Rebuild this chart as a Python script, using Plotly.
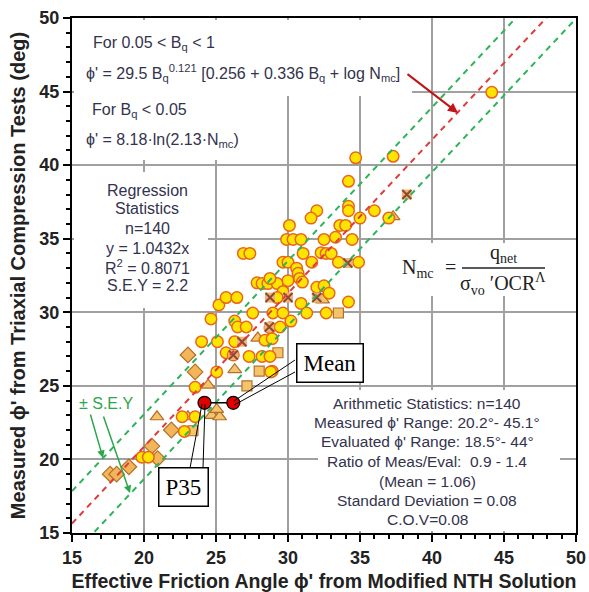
import numpy as np
import plotly.graph_objects as go

# ---------------- data ----------------
circle_x = [34.7, 37.3, 34.2, 34.2, 34.2, 32.0, 31.6, 36.0, 35.0, 37.0, 30.1, 33.6, 34.0,
            29.9, 30.35, 30.9, 32.5, 33.3, 34.45, 26.9, 27.35, 31.05, 32.3, 32.65, 33.0,
            31.65, 29.65, 30.0, 33.5, 34.9, 30.6, 30.7, 30.8, 31.0, 27.85, 28.2, 28.6, 29.25,
            28.75, 30.0, 32.0, 32.5, 32.85, 29.65, 29.25, 25.2, 25.7, 26.45, 30.9, 34.2,
            27.55, 28.95, 29.65, 31.3, 32.65, 24.65, 26.3, 26.5, 27.1, 28.75, 29.45, 30.2,
            24.0, 25.1, 26.3, 28.4, 28.9, 25.7, 26.2, 27.3, 28.2, 28.75, 28.9, 25.05, 28.8,
            23.55, 22.65, 23.55, 22.8, 19.85, 20.3, 44.15]
circle_y = [40.5, 40.6, 38.9, 37.2, 36.9, 36.9, 36.4, 36.9, 36.4, 36.4, 35.9, 35.9, 35.9,
            34.95, 34.95, 34.95, 34.95, 35.1, 34.95, 34.0, 34.0, 34.0, 34.05, 34.0, 34.0,
            33.4, 33.4, 33.4, 33.4, 33.4, 33.0, 32.65, 32.3, 32.05, 32.0, 31.95, 31.95, 31.95,
            32.3, 32.15, 31.7, 31.8, 31.3, 31.4, 31.0, 30.5, 31.0, 31.0, 30.6, 30.7,
            29.95, 29.95, 29.95, 29.95, 29.95, 29.55, 29.4, 29.0, 29.0, 28.95, 29.0, 29.4,
            28.0, 28.0, 28.0, 28.1, 28.2, 27.25, 27.1, 27.0, 27.0, 27.0, 26.0, 25.95, 25.95,
            24.9, 22.9, 22.9, 21.9, 20.15, 20.15, 44.95]

square_x = [33.5, 29.3, 28.0, 27.15, 23.4]
square_y = [29.95, 27.25, 26.0, 25.0, 21.95]

triangle_x = [37.3, 32.4, 27.9, 26.3, 24.45, 20.9, 23.05, 24.7, 25.25, 25.05]
triangle_y = [36.5, 30.85, 28.25, 26.1, 25.05, 22.9, 22.9, 23.0, 22.9, 23.4]

diamond_x = [23.05, 23.55, 21.9, 20.55, 20.95, 18.95, 17.65, 18.1]
diamond_y = [27.1, 25.95, 22.0, 20.9, 20.05, 19.5, 19.0, 19.0]

cross_x = [38.25, 34.15, 28.75, 30.0, 32.0, 28.7, 26.8, 26.2]
cross_y = [38.0, 33.35, 31.0, 31.0, 31.0, 29.0, 28.0, 27.1]

stat_names = ["P35", "Mean"]
stat_x = [24.2, 26.2]
stat_y = [23.85, 23.85]

slope = 1.0432
sey = 2.2
line_x = [15, 50]

reg_lines = ["Regression", "Statistics", "n=140", "y = 1.0432x",
             "R<sup>2</sup> = 0.8071", "S.E.Y = 2.2"]
arith_lines = ["Arithmetic Statistics: n=140",
               "Measured ϕ' Range: 20.2°- 45.1°",
               "Evaluated ϕ' Range: 18.5°- 44°",
               "Ratio of Meas/Eval:  0.9 - 1.4",
               "(Mean = 1.06)",
               "Standard Deviation = 0.08",
               "C.O.V=0.08"]

# ---------------- helpers (pixel -> data, for annotation placement) -------------
L, R, T, B = 72, 576, 18, 533
def PX(px):
    return 15 + (px - L) * 35.0 / (R - L)
def PY(py):
    return 15 + (B - py) * 35.0 / (B - T)

SANS = "Liberation Sans, Arial, sans-serif"
SERIF = "Liberation Serif, Times New Roman, serif"
TXT = "#33334d"

fig = go.Figure()

edge = "#b0702a"
fig.add_trace(go.Scatter(x=diamond_x, y=diamond_y, mode="markers",
                         marker=dict(symbol="diamond", size=12, color="#f2b55a",
                                     line=dict(color=edge, width=1.2)), showlegend=False))
fig.add_trace(go.Scatter(x=square_x, y=square_y, mode="markers",
                         marker=dict(symbol="square", size=10, color="#f5c46a",
                                     line=dict(color=edge, width=1.2)), showlegend=False))
fig.add_trace(go.Scatter(x=triangle_x, y=triangle_y, mode="markers",
                         marker=dict(symbol="triangle-up", size=12, color="#f5c46a",
                                     line=dict(color=edge, width=1.2)), showlegend=False))
fig.add_trace(go.Scatter(x=circle_x, y=circle_y, mode="markers",
                         marker=dict(symbol="circle", size=11.5, color="#ffe400",
                                     line=dict(color="#e8651c", width=1.5)), showlegend=False))
fig.add_trace(go.Scatter(x=cross_x, y=cross_y, mode="markers",
                         marker=dict(symbol="square", size=10, color="#f0b27a",
                                     line=dict(width=0)), showlegend=False))
fig.add_trace(go.Scatter(x=cross_x, y=cross_y, mode="markers",
                         marker=dict(symbol="x-thin", size=9,
                                     line=dict(color="#8b4a2b", width=2)), showlegend=False))

# regression and +/- S.E.Y lines
lx = np.array(line_x, dtype=float)
fig.add_trace(go.Scatter(x=lx, y=slope * lx, mode="lines",
                         line=dict(color="#e03a3a", width=2, dash="6px,5px"), showlegend=False))
fig.add_trace(go.Scatter(x=lx, y=slope * lx + sey, mode="lines",
                         line=dict(color="#2db35a", width=2, dash="6px,5px"), showlegend=False))
fig.add_trace(go.Scatter(x=lx, y=slope * lx - sey, mode="lines",
                         line=dict(color="#2db35a", width=2, dash="6px,5px"), showlegend=False))

# P35 / Mean
fig.add_trace(go.Scatter(x=stat_x, y=stat_y, mode="lines+markers",
                         line=dict(color="black", width=1.5),
                         marker=dict(symbol="circle", size=13, color="#e00000",
                                     line=dict(color="black", width=1.2)), showlegend=False))

shapes = []
def white(x0, y0, x1, y1):
    shapes.append(dict(type="rect", xref="x", yref="y", x0=PX(x0), x1=PX(x1), y0=PY(y0), y1=PY(y1),
                       fillcolor="white", line=dict(width=0), layer="between"))
white(74, 20, 412, 96)
white(74, 96, 262, 160)
white(74, 172, 208, 308)
white(400, 243, 550, 296)
white(318, 390, 560, 531)

def seg(x0, y0, x1, y1, w=1, c="black"):
    shapes.append(dict(type="line", xref="x", yref="y", x0=PX(x0), y0=PY(y0), x1=PX(x1), y1=PY(y1),
                       line=dict(color=c, width=w), layer="above"))
# callout wedges
seg(190, 468, 202, 404)
seg(203, 468, 205, 404)
seg(295, 360, 234, 401)
seg(295, 372, 234, 405)
# fraction bar
seg(462, 268, 545, 268, w=1.3, c="#222222")

ann = []
def text(px, py, s, size=16, anchor="left", font=SANS, color=TXT, **kw):
    ann.append(dict(x=PX(px), y=PY(py), xref="x", yref="y", text=s, showarrow=False,
                    xanchor=anchor, yanchor="middle",
                    font=dict(family=font, size=size, color=color), **kw))

text(91, 43, "For 0.05 < B<sub>q</sub> < 1")
text(84, 73, "ϕ' = 29.5 B<sub>q</sub><sup>0.121</sup> [0.256 + 0.336 B<sub>q</sub> + log N<sub>mc</sub>]")
text(90, 110, "For B<sub>q</sub> < 0.05")
text(84, 140, "ϕ' = 8.18·ln(2.13·N<sub>mc</sub>)")

reg_y = [190, 208, 228, 248, 267, 285]
for s, yy in zip(reg_lines, reg_y):
    text(147, yy, s, size=16, anchor="center")

arith_y = [403, 422, 441, 461, 481, 500, 519]
for s, yy in zip(arith_lines, arith_y):
    text(427, yy, s, size=15.5, anchor="center")

text(418, 268, "N<sub>mc</sub>", size=20, anchor="center", font=SERIF, color="#222222")
text(450, 267, "=", size=20, anchor="center", font=SERIF, color="#222222")
text(503, 253, "q<sub>net</sub>", size=20, anchor="center", font=SERIF, color="#222222")
text(503, 284, "σ<sub>vo</sub> ′OCR<sup>Λ</sup>", size=20, anchor="center", font=SERIF, color="#222222")

text(106, 403, "± S.E.Y", size=16, anchor="center", color="#2aa84a")

for name, (cx, cy) in zip(stat_names, [(183, 487), (330, 363)]):
    ann.append(dict(x=PX(cx), y=PY(cy), xref="x", yref="y", text=name, showarrow=False,
                    xanchor="center", yanchor="middle", bgcolor="white", bordercolor="black",
                    borderwidth=1.5, borderpad=6,
                    font=dict(family=SERIF, size=23, color="black")))

def arrow(tx, ty, hx, hy, color, width):
    ann.append(dict(x=PX(hx), y=PY(hy), ax=PX(tx), ay=PY(ty), xref="x", yref="y",
                    axref="x", ayref="y", text="", showarrow=True, arrowhead=2,
                    arrowsize=1, arrowwidth=width, arrowcolor=color))
arrow(406, 73, 458, 113, "#c01418", 2)
arrow(90, 413, 103, 458, "#2aa84a", 1.5)
arrow(103, 415, 130, 493, "#2aa84a", 1.5)

axis_common = dict(range=[15, 50], dtick=5, tick0=15, ticks="outside", ticklen=7, tickwidth=1.5,
                   tickcolor="black", showgrid=True, gridcolor="#a0a0a0", gridwidth=1.5,
                   showline=True, linecolor="black", linewidth=2, mirror=True, zeroline=False,
                   automargin=False,
                   minor=dict(dtick=1, ticks="outside", ticklen=4, tickcolor="black", showgrid=False),
                   tickfont=dict(family=SANS, size=18, color="#222222", weight="bold"))

fig.update_layout(
    width=589, height=592,
    margin=dict(l=L, r=589 - R, t=T, b=592 - B),
    paper_bgcolor="white", plot_bgcolor="white",
    xaxis=dict(**axis_common,
               title=dict(text="Effective Friction Angle ϕ' from Modified NTH Solution",
                          font=dict(family=SANS, size=19.5, color="#222222", weight="bold"),
                          standoff=8)),
    yaxis=dict(**axis_common,
               title=dict(text="Measured ϕ' from Triaxial Compression Tests (deg)",
                          font=dict(family=SANS, size=20, color="#222222", weight="bold"),
                          standoff=8)),
    shapes=shapes, annotations=ann, showlegend=False,
)

fig.write_html("out.html", config={"displayModeBar": False},
               post_script="document.body.style.margin='0';document.body.style.overflow='hidden';")
